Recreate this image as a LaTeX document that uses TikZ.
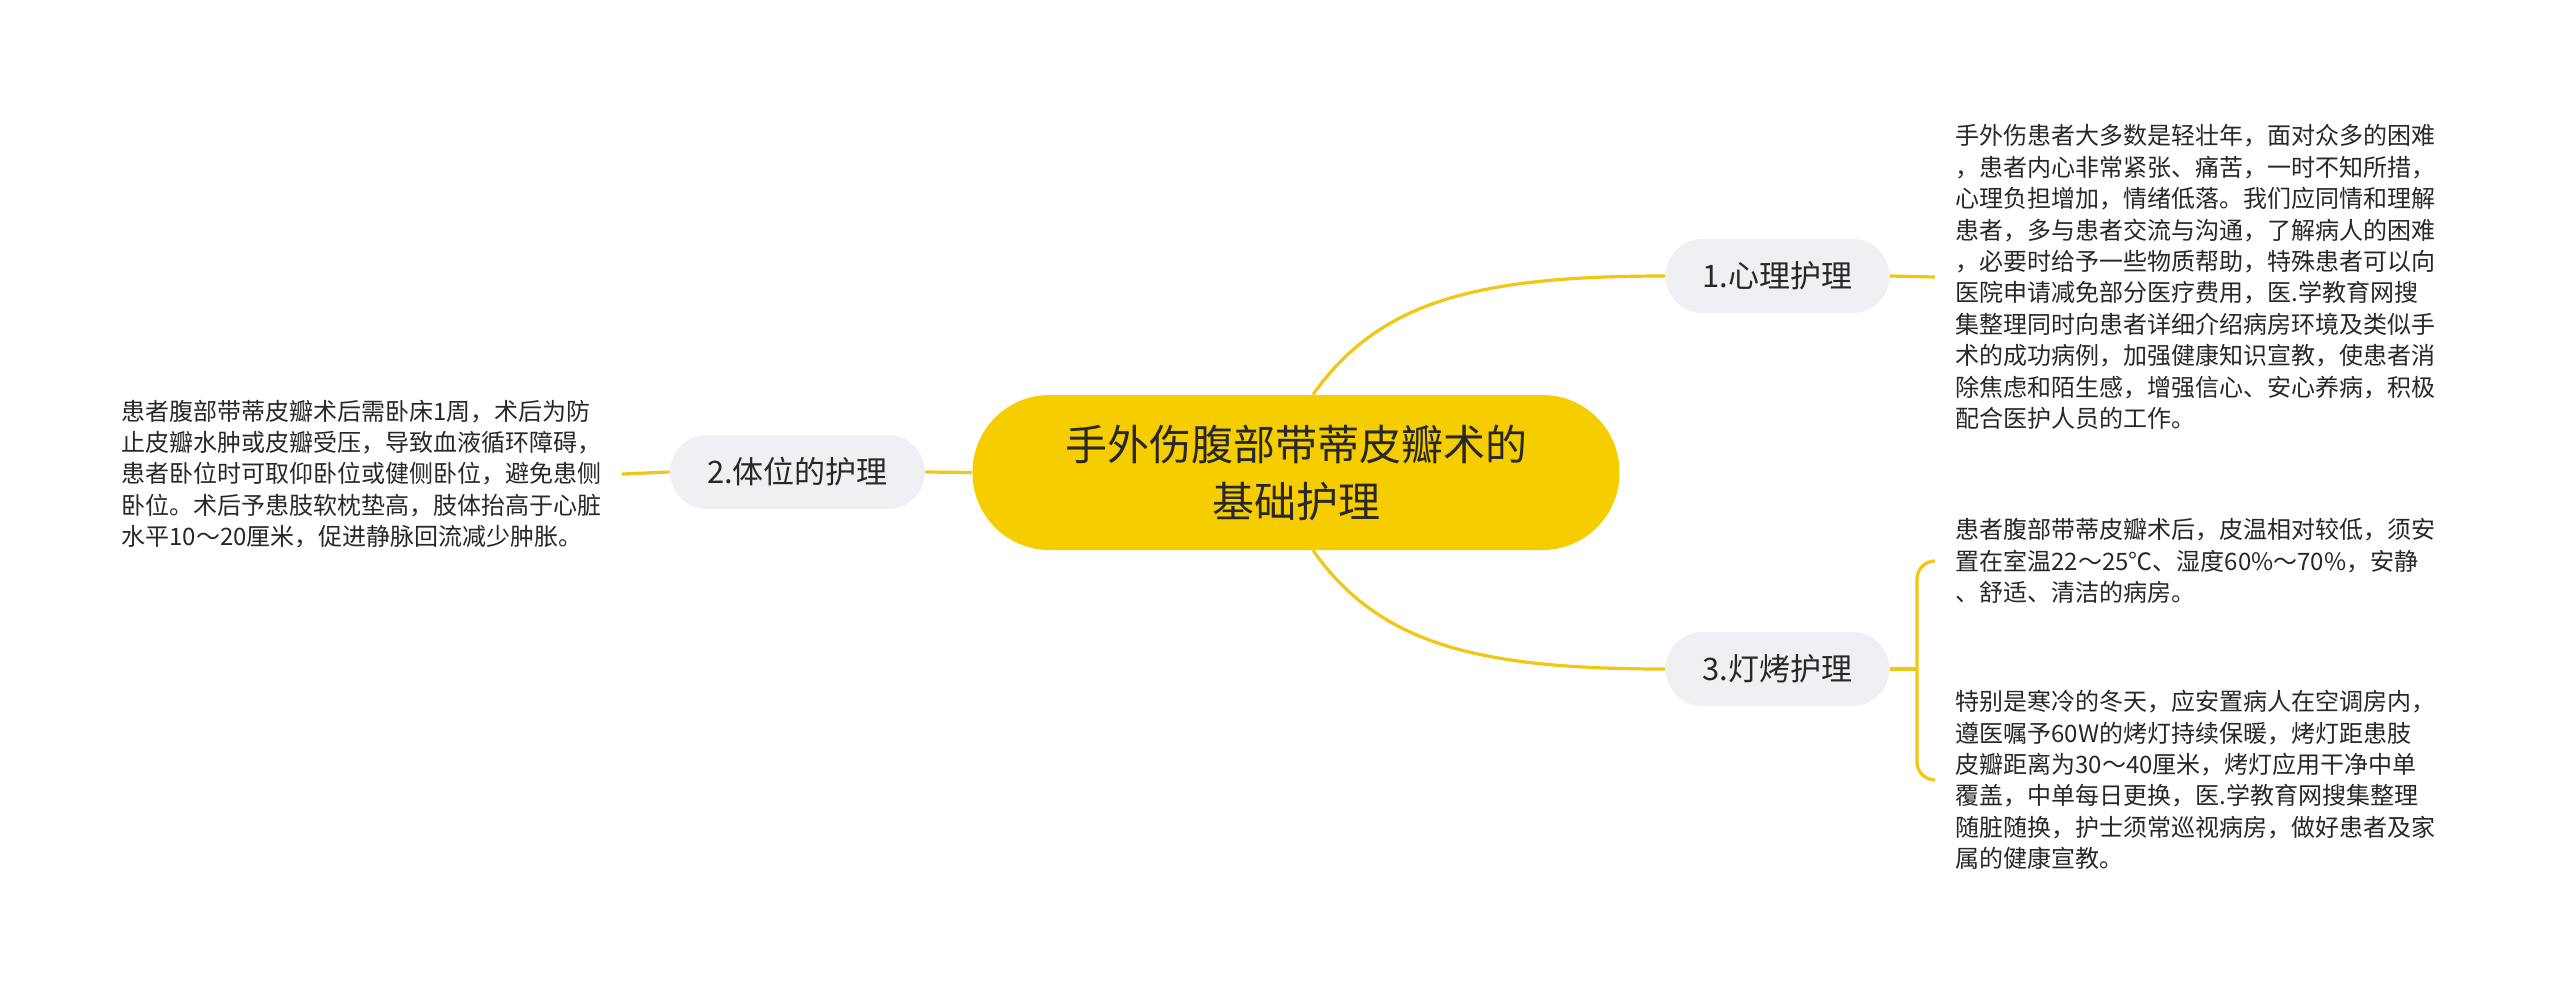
\documentclass[tikz,border=0pt]{standalone}
\usepackage{fontspec}
\setmainfont{Noto Sans CJK SC}
\definecolor{mainyellow}{RGB}{246,206,0}
\definecolor{linkyellow}{RGB}{241,199,20}
\definecolor{subgray}{RGB}{238,240,243}
\definecolor{txt}{RGB}{40,40,40}
\begin{document}
\begin{tikzpicture}[x=0.5pt,y=-0.5pt,
  rootbox/.style={fill=mainyellow, rounded corners=38.5pt, minimum width=323.5pt, minimum height=77.5pt,
    align=center, text=txt, font=\fontsize{21pt}{28.5pt}\selectfont},
  subbox/.style={fill=subgray, rounded corners=18.5pt, minimum height=37pt, inner xsep=18.5pt,
    text=txt, font=\fontsize{15.5pt}{18pt}\selectfont},
  leaf/.style={align=left, inner xsep=10pt, inner ysep=0pt, text=txt, font=\fontsize{12pt}{15.7pt}\selectfont},
  link/.style={draw=linkyellow, line width=1.6pt}]
\fill[white] (0,0) rectangle (2560,992);
\useasboundingbox (0,0) rectangle (2560,992);

\node[rootbox] (c) at (1296,472.5) {手外伤腹部带蒂皮瓣术的\\基础护理};
\node[subbox] (n1) at (1777.5,276) {1.心理护理};
\node[subbox] (n3) at (1777.5,669) {3.灯烤护理};
\node[subbox] (n2) at (797.5,472) {2.体位的护理};

\node[leaf, anchor=west] (t1) at (1935,277) {手外伤患者大多数是轻壮年，面对众多的困难\\
，患者内心非常紧张、痛苦，一时不知所措，\\
心理负担增加，情绪低落。我们应同情和理解\\
患者，多与患者交流与沟通，了解病人的困难\\
，必要时给予一些物质帮助，特殊患者可以向\\
医院申请减免部分医疗费用，医.学教育网搜\\
集整理同时向患者详细介绍病房环境及类似手\\
术的成功病例，加强健康知识宣教，使患者消\\
除焦虑和陌生感，增强信心、安心养病，积极\\
配合医护人员的工作。};

\node[leaf, anchor=east] (t2) at (622,474) {患者腹部带蒂皮瓣术后需卧床1周，术后为防\\
止皮瓣水肿或皮瓣受压，导致血液循环障碍，\\
患者卧位时可取仰卧位或健侧卧位，避免患侧\\
卧位。术后予患肢软枕垫高，肢体抬高于心脏\\
水平10～20厘米，促进静脉回流减少肿胀。};

\node[leaf, anchor=west] (t3a) at (1935,561) {患者腹部带蒂皮瓣术后，皮温相对较低，须安\\
置在室温22～25℃、湿度60\%～70\%，安静\\
、舒适、清洁的病房。};

\node[leaf, anchor=west] (t3b) at (1935,780) {特别是寒冷的冬天，应安置病人在空调房内，\\
遵医嘱予60W的烤灯持续保暖，烤灯距患肢\\
皮瓣距离为30～40厘米，烤灯应用干净中单\\
覆盖，中单每日更换，医.学教育网搜集整理\\
随脏随换，护士须常巡视病房，做好患者及家\\
属的健康宣教。};

\coordinate (j3) at (1917,669);

\draw[link] ([xshift=8.5pt]c.north) .. controls +(67,-95) and +(-185,0) .. (n1.west);
\draw[link] ([xshift=8.5pt]c.south) .. controls +(67,95) and +(-185,0) .. (n3.west);
\draw[link] (c.west) -- (n2.east);
\draw[link] (n2.west) -- (t2.east);
\draw[link] (n1.east) -- (t1.west);
\draw[link] (n3.east) -- (j3);
\draw[link, rounded corners=9pt] (j3) |- (t3a.west);
\draw[link, rounded corners=9pt] (j3) |- (t3b.west);
\end{tikzpicture}
\end{document}
